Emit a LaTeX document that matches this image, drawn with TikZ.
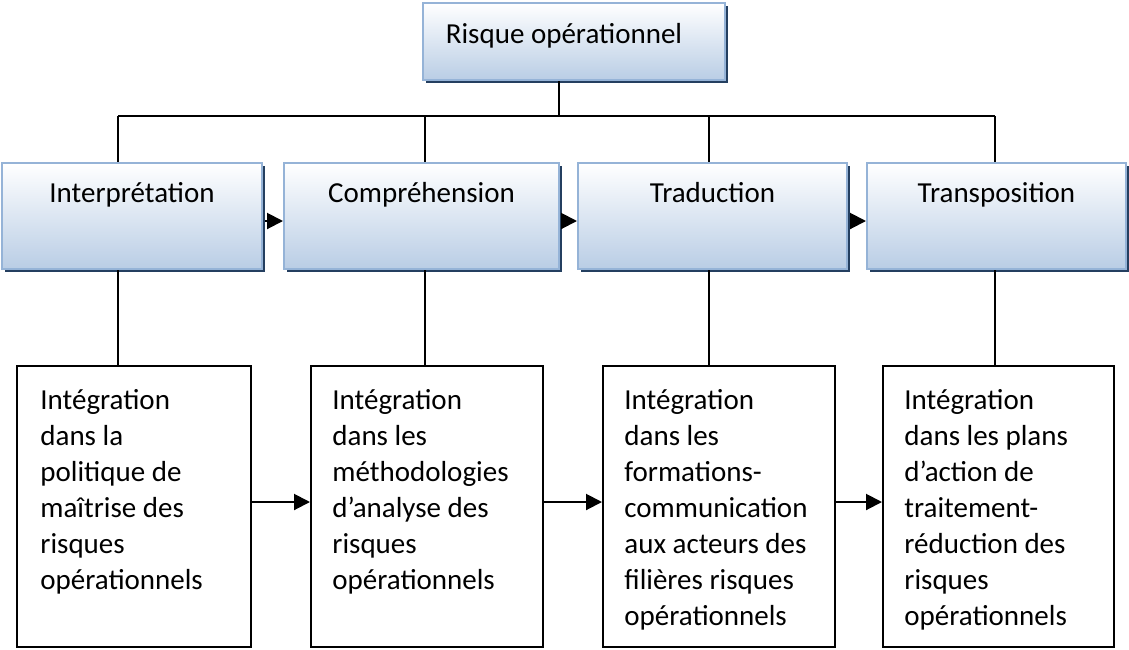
\documentclass[tikz,border=0pt]{standalone}
\usepackage{fontspec}
\setmainfont{Carlito}
\usepackage{xcolor}
\usepackage{tikz}
\usetikzlibrary{arrows.meta, positioning, shadows}

\definecolor{boxline}{HTML}{95B3D7}
\definecolor{boxbot}{HTML}{B9CDE5}
\definecolor{boxshadow}{HTML}{243F60}

\begin{document}
\begin{tikzpicture}[
    x=0.5pt, y=-0.5pt,
    font=\fontsize{14.5}{18}\selectfont,
    headbox/.style={rectangle, draw=boxline, line width=1pt, top color=white, bottom color=boxbot,
        general shadow={fill=boxshadow, shadow xshift=1.5pt, shadow yshift=-1.5pt}, inner sep=0pt},
    headtext/.style={anchor=base, inner sep=0pt},
    stepbox/.style={rectangle, draw, line width=1pt, fill=white, minimum height=140.5pt, inner sep=0pt},
    boxtext/.style={anchor=north west, align=left, inner sep=0pt},
    link/.style={line width=1pt},
    arrow/.style={-{Triangle[length=8pt, width=8pt]}, line width=1pt}
]
    \useasboundingbox (0,0) rectangle (1129,649);

    % Nodes
    \node[headbox, minimum width=151pt, minimum height=38.5pt] (risque) at (574,41.5) {};
    \node[headtext] (risque-t) at (564,43) {Risque opérationnel};

    \node[headbox, minimum width=130pt, minimum height=53pt] (interp) at (132,216) {};
    \node[headbox, minimum width=137.5pt, minimum height=53pt] (compr) at (421.5,216) {};
    \node[headbox, minimum width=134.5pt, minimum height=53pt] (trad) at (712.5,216) {};
    \node[headbox, minimum width=129.5pt, minimum height=53pt] (transp) at (996.5,216) {};
    \node[headtext] (interp-t) at (132,202) {Interprétation};
    \node[headtext] (compr-t) at (421.5,202) {Compréhension};
    \node[headtext] (trad-t) at (712.5,202) {Traduction};
    \node[headtext] (transp-t) at (996.5,202) {Transposition};

    \node[stepbox, minimum width=117pt] (integ1) at (134,506.5) {};
    \node[stepbox, minimum width=116pt] (integ2) at (427,506.5) {};
    \node[stepbox, minimum width=116pt] (integ3) at (719,506.5) {};
    \node[stepbox, minimum width=115.5pt] (integ4) at (998.5,506.5) {};
    \node[boxtext] (integ1-t) at (40,389) {Intégration\\dans la\\politique de\\maîtrise des\\risques\\opérationnels};
    \node[boxtext] (integ2-t) at (332,389) {Intégration\\dans les\\méthodologies\\d’analyse des\\risques\\opérationnels};
    \node[boxtext] (integ3-t) at (624,389) {Intégration\\dans les\\formations-\\communication\\aux acteurs des\\filières risques\\opérationnels};
    \node[boxtext] (integ4-t) at (904,389) {Intégration\\dans les plans\\d’action de\\traitement-\\réduction des\\risques\\opérationnels};

    % Tree lines
    \coordinate (hub) at (559,116);
    \coordinate (bus1) at (118,116);
    \coordinate (bus2) at (425,116);
    \coordinate (bus3) at (709,116);
    \coordinate (bus4) at (995,116);
    \draw[link] (hub |- risque.south) -- (hub);
    \draw[link] (bus1) -- (bus4);
    \draw[link] (bus1) -- (bus1 |- interp.north);
    \draw[link] (bus2) -- (bus2 |- compr.north);
    \draw[link] (bus3) -- (bus3 |- trad.north);
    \draw[link] (bus4) -- (bus4 |- transp.north);
    \draw[link] (bus1 |- interp.south) -- (bus1 |- integ1.north);
    \draw[link] (bus2 |- compr.south) -- (bus2 |- integ2.north);
    \draw[link] (bus3 |- trad.south) -- (bus3 |- integ3.north);
    \draw[link] (bus4 |- transp.south) -- (bus4 |- integ4.north);

    % Arrows
    \draw[arrow] ([xshift=1pt, yshift=-2.5pt]interp.east) -- ([yshift=-2.5pt]compr.west);
    \draw[arrow] ([xshift=1pt, yshift=-2.5pt]compr.east) -- ([yshift=-2.5pt]trad.west);
    \draw[arrow] ([xshift=1pt, yshift=-2.5pt]trad.east) -- ([yshift=-2.5pt]transp.west);
    \draw[arrow] ([yshift=2.25pt]integ1.east) -- ([yshift=2.25pt]integ2.west);
    \draw[arrow] ([yshift=2.25pt]integ2.east) -- ([yshift=2.25pt]integ3.west);
    \draw[arrow] ([yshift=2.25pt]integ3.east) -- ([yshift=2.25pt]integ4.west);
\end{tikzpicture}
\end{document}
